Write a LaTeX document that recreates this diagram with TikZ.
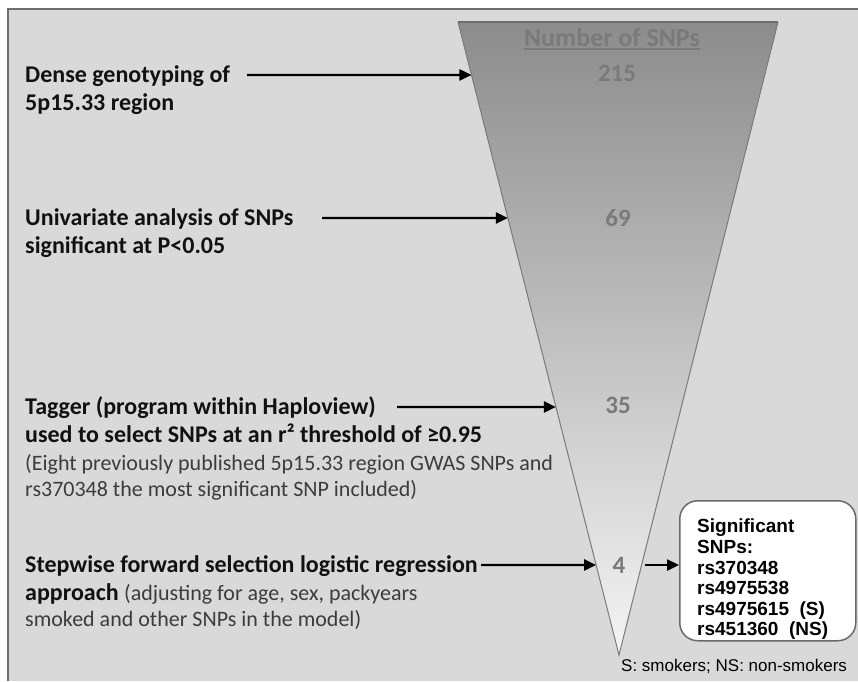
\documentclass[tikz,border=0pt]{standalone}
\usepackage{fontspec}
\setmainfont{Carlito}
\newfontfamily\arialfont{Liberation Sans}
\usetikzlibrary{arrows.meta,calc}
\definecolor{bg}{HTML}{D9D9D9}
\definecolor{frameline}{HTML}{6E6E6E}
\definecolor{numgray}{HTML}{7A7A7A}
\definecolor{funtop}{HTML}{8C8C8C}
\definecolor{funbot}{HTML}{F4F4F4}
\definecolor{subtext}{HTML}{3C3C3C}
\definecolor{edgegray}{HTML}{7A7A7A}
\definecolor{boxedge}{HTML}{6A6A6A}
\definecolor{ink}{HTML}{111111}
\begin{document}
\begin{tikzpicture}[x=1pt,y=-1pt,
  lbl/.style={anchor=base west, inner sep=0pt, text=ink, font=\fontsize{24}{28}\selectfont\bfseries},
  sub/.style={anchor=base west, inner sep=0pt, text=subtext, font=\fontsize{22}{26}\selectfont},
  num/.style={inner sep=0pt, text=numgray, font=\fontsize{25}{30}\selectfont\bfseries},
  arr/.style={draw=black, line width=2.4pt, -{Triangle[length=12pt,width=11pt]}},
  sigbox/.style={draw=boxedge, fill=white, rounded corners=18pt, line width=1.5pt, inner sep=0pt},
  boxtxt/.style={inner sep=0pt, align=left, text=black, font=\fontsize{19}{20.6}\selectfont\arialfont\bfseries}
]
\useasboundingbox (0,0) rectangle (858,681);
\fill[white] (0,0) rectangle (858,681);
\fill[bg] (8,9) rectangle (858,681);
\draw[frameline, line width=2pt] (8,681) -- (8,9) -- (858,9);

% funnel
\coordinate (ftl) at (458,22);
\coordinate (ftr) at (778,22);
\coordinate (fap) at (619,655);
\shade[top color=funtop, bottom color=funbot] (ftl) -- (ftr) -- (fap) -- cycle;
\draw[edgegray, line width=1pt] (ftl) -- (fap) -- (ftr);
\draw[frameline, line width=1.8pt] (ftl) -- (ftr);

% title and numbers
\node[anchor=base, inner sep=0pt, text=numgray, font=\fontsize{26}{30}\selectfont\bfseries] (title) at (612,46) {Number of SNPs};
\draw[numgray, line width=1.8pt] ([yshift=-3pt]title.south west) -- ([yshift=-3pt]title.south east);
\node[num] (n215) at (617,73) {215};
\node[num] (n69) at (618,218) {69};
\node[num] (n35) at (618,405) {35};
\node[num] (n4) at (619,565) {4};

% left texts
\node[lbl] (t1a) at (25,82) {Dense genotyping of};
\node[lbl] (t1b) at (25,110) {5p15.33 region};
\node[lbl] (t2a) at (25,225) {Univariate analysis of SNPs};
\node[lbl] (t2b) at (25,253) {significant at P<0.05};
\node[lbl] (t3a) at (25,414) {Tagger (program within Haploview)};
\node[lbl] (t3b) at (25,442) {used to select SNPs at an r² threshold of ≥0.95};
\node[sub] (t3c) at (25,470) {(Eight previously published 5p15.33 region GWAS SNPs and};
\node[sub] (t3d) at (25,496) {rs370348 the most significant SNP included)};
\node[lbl] (t4a) at (25,572) {Stepwise forward selection logistic regression};
\node[lbl] (t4b) at (25,600) {approach {\mdseries\fontsize{22}{26}\selectfont\color{subtext} (adjusting for age, sex, packyears}};
\node[sub] (t4c) at (25,626) {smoked and other SNPs in the model)};

% arrows
\coordinate (s1) at (247,75);
\coordinate (e1) at ($(ftl)!0.0837!(fap)$);
\coordinate (s2) at (322,218);
\coordinate (e2) at ($(ftl)!0.3096!(fap)$);
\coordinate (s3) at (397,407);
\coordinate (e3) at ($(ftl)!0.6082!(fap)$);
\coordinate (s4) at (481,565);
\coordinate (e4) at ($(ftl)!0.8578!(fap)$);
\draw[arr] (s1) -- (e1);
\draw[arr] (s2) -- (e2);
\draw[arr] (s3) -- (e3);
\draw[arr] (s4) -- (e4);

% result box
\node[sigbox, minimum width=176pt, minimum height=140pt, anchor=north west] (box) at (679,500) {};
\node[boxtxt, anchor=north west] (sig) at (697,519) {Significant\\SNPs:\\rs370348\\rs4975538\\rs4975615~~(S)\\rs451360~~(NS)};
\coordinate (s5) at (645,565);
\draw[arr] (s5) -- (s5 -| box.west);

\node[anchor=base west, inner sep=0pt, text=black, font=\fontsize{17}{20}\selectfont\arialfont] (foot) at (621,671) {S: smokers; NS: non-smokers};
\end{tikzpicture}
\end{document}
